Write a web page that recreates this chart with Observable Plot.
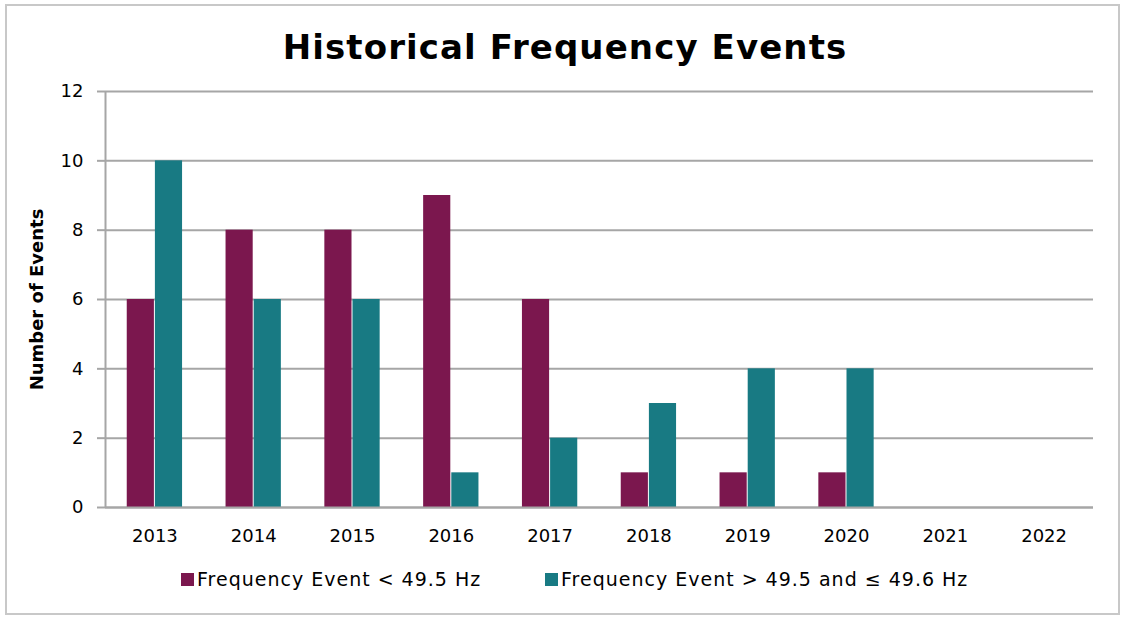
<!DOCTYPE html>
<html>
<head>
<meta charset="utf-8">
<script src="https://cdn.jsdelivr.net/npm/d3@7"></script>
<script src="https://cdn.jsdelivr.net/npm/@observablehq/plot@0.6"></script>
<style>
  html, body { margin: 0; padding: 0; background: #fff; }
  body { width: 1126px; height: 619px; position: relative; overflow: hidden; font-family: "DejaVu Sans", sans-serif; }
  #frame { position: absolute; left: 5px; top: 4px; width: 1115px; height: 611px; border: 2px solid #c8c8c8; box-sizing: border-box; }
  #title { position: absolute; left: 2px; width: 1126px; top: 27px; text-align: center; font-size: 34px; font-weight: bold; color: #000; letter-spacing: 1.1px; }
  #chart { position: absolute; left: 0; top: 0; }
  #legend { position: absolute; top: 568px; left: 181px; font-size: 19px; letter-spacing: 1px; color: #000; white-space: nowrap; }
  .item { position: absolute; top: 0; display: flex; align-items: center; }
  .sw { width: 13px; height: 13px; margin-right: 3px; }
</style>
</head>
<body>
<div id="frame"></div>
<div id="title">Historical Frequency Events</div>
<div id="chart"></div>
<div id="legend">
  <div class="item" style="left:0px"><span class="sw" style="background:#7B174E"></span><span>Frequency Event &lt; 49.5 Hz</span></div>
  <div class="item" style="left:364px"><span class="sw" style="background:#187A83"></span><span>Frequency Event &gt; 49.5 and ≤ 49.6 Hz</span></div>
</div>
<script>
const years = ["2013","2014","2015","2016","2017","2018","2019","2020","2021","2022"];
const seriesNames = ["Frequency Event < 49.5 Hz", "Frequency Event > 49.5 and ≤ 49.6 Hz"];
const below495 = [6, 8, 8, 9, 6, 1, 1, 1, 0, 0];
const between495and496 = [10, 6, 6, 1, 2, 3, 4, 4, 0, 0];
const yTicks = [0, 2, 4, 6, 8, 10, 12];
const colors = ["#7B174E", "#187A83"];

const rowsA = years.map((yr, i) => ({year: yr, series: seriesNames[0], value: below495[i]}));
const rowsB = years.map((yr, i) => ({year: yr, series: seriesNames[1], value: between495and496[i]}));

const W = 1126, mL = 105, mR = 33;
const step = (W - mL - mR) / years.length;
const half = step * (1 - 0.43) / 2;

const chart = Plot.plot({
  width: W,
  height: 560,
  marginTop: 91,
  marginBottom: 53,
  marginLeft: mL,
  marginRight: mR,
  style: {fontFamily: "DejaVu Sans, sans-serif", fontSize: "18px", color: "#000", background: "transparent"},
  x: {domain: years, paddingInner: 0.43, paddingOuter: 0.215, round: false, label: null},
  y: {domain: [0, 12], ticks: yTicks, label: null},
  color: {domain: seriesNames, range: colors},
  marks: [
    Plot.ruleY(yTicks, {stroke: "#a6a6a6", strokeWidth: 2}),
    Plot.axisY({ticks: yTicks, tickSize: 8, tickPadding: 14, stroke: "#a6a6a6", strokeWidth: 2, strokeOpacity: 1, fontSize: 18, label: null}),
    Plot.ruleX([years[0]], {x: d => d, y1: 0, y2: 12, dx: -step / 2, stroke: "#a6a6a6", strokeWidth: 2}),
    Plot.axisX({tickSize: 0, tickPadding: 22, fontSize: 18, label: null}),
    Plot.barY(rowsA, {x: "year", y: "value", fill: "series", insetRight: half + 0.5, insetLeft: 0.5}),
    Plot.barY(rowsB, {x: "year", y: "value", fill: "series", insetLeft: half + 0.5, insetRight: 0.5}),
    Plot.ruleY([0], {stroke: "#a6a6a6", strokeWidth: 2}),
    Plot.text(["Number of Events"], {frameAnchor: "left", textAnchor: "middle", dx: -68, rotate: -90, fontSize: 18, fontWeight: "bold", letterSpacing: 1.4})
  ]
});
document.getElementById("chart").appendChild(chart);
</script>
</body>
</html>
